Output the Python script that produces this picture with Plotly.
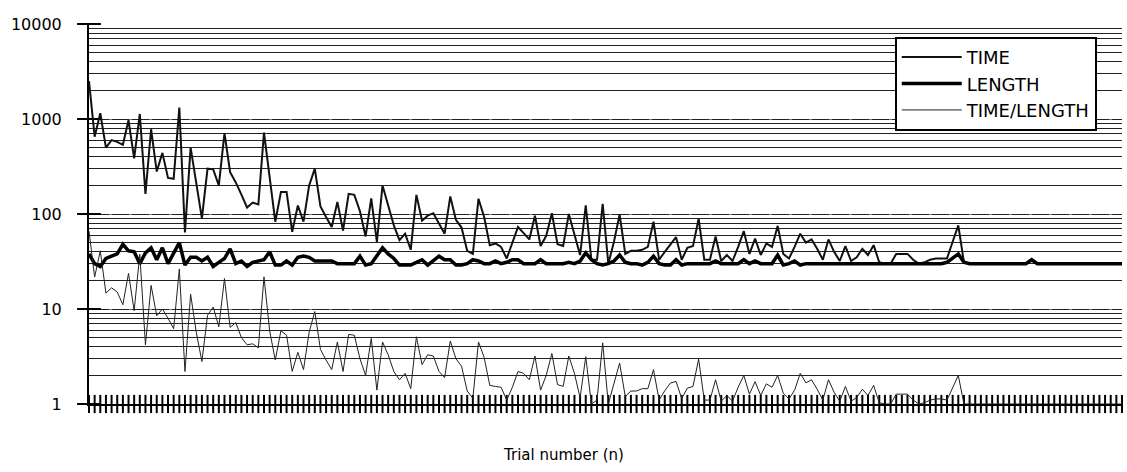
import plotly.graph_objects as go

# ---- data (trial index 1..184) ----
trial = list(range(1, 185))

time_vals = [
    2500, 650, 1150, 500, 600, 575, 535, 970, 385, 1130,
    163, 780, 280, 440, 240, 235, 1320, 64, 500, 200,
    90, 300, 295, 200, 710, 275, 215, 160, 117, 132,
    126, 720, 235, 83, 170, 170, 65, 123, 83, 200,
    300, 120, 93, 73, 134, 67, 163, 159, 107, 58,
    146, 51, 200, 124, 76, 53, 62, 42, 159, 85,
    96, 102, 78, 62, 153, 87, 72, 41, 38, 145,
    93, 47, 49, 45, 34, 50, 73, 63, 54, 96,
    46, 59, 102, 48, 46, 100, 62, 37, 123, 33,
    33, 128, 30, 51, 99, 38, 41, 41, 42, 45,
    83, 33, 40, 48, 57, 33, 44, 46, 89, 33,
    33, 58, 32, 37, 32, 45, 66, 38, 55, 37,
    49, 45, 75, 38, 34, 45, 62, 50, 54, 43,
    33, 54, 40, 32, 46, 32, 35, 43, 37, 47,
    31, 30, 30, 38, 38, 38, 33, 30, 31, 33,
    34, 34, 34, 51, 76, 31, 30, 30, 30, 30,
    30, 30, 30, 30, 30, 30, 30, 33, 30, 30,
    30, 30, 30, 30, 30, 30, 30, 30, 30, 30,
    30, 30, 30, 30,
]

length_vals = [
    38, 30, 28, 34, 36, 38, 48, 41, 40, 30,
    39, 44, 33, 44, 30, 38, 50, 29, 35, 35,
    32, 35, 28, 31, 34, 43, 30, 32, 28, 31,
    32, 33, 40, 29, 29, 32, 29, 35, 36, 35,
    32, 32, 32, 32, 30, 30, 30, 30, 36, 29,
    30, 37, 44, 38, 34, 29, 29, 29, 31, 33,
    29, 32, 36, 33, 33, 29, 29, 30, 33, 32,
    30, 30, 32, 30, 31, 33, 33, 30, 30, 30,
    33, 30, 30, 30, 30, 31, 30, 32, 39, 33,
    30, 29, 30, 32, 37, 31, 30, 30, 29, 31,
    36, 30, 29, 29, 33, 29, 30, 30, 30, 30,
    30, 32, 30, 30, 30, 30, 33, 30, 32, 30,
    30, 30, 37, 29, 30, 32, 29, 30, 30, 30,
    30, 30, 30, 30, 30, 30, 30, 30, 30, 30,
    30, 30, 30, 30, 30, 30, 30, 30, 30, 30,
    30, 30, 31, 34, 38, 31, 30, 30, 30, 30,
    30, 30, 30, 30, 30, 30, 30, 33, 30, 30,
    30, 30, 30, 30, 30, 30, 30, 30, 30, 30,
    30, 30, 30, 30,
]

ratio_vals = [
    66, 21.7, 41, 14.7, 16.7, 15.1, 11.1, 23.7, 9.6, 37.7,
    4.2, 17.7, 8.5, 10, 8, 6.2, 26.4, 2.2, 14.3, 5.7,
    2.8, 8.6, 10.5, 6.5, 20.9, 6.4, 7.2, 5.0, 4.2, 4.3,
    3.9, 21.8, 5.9, 2.9, 5.9, 5.3, 2.2, 3.5, 2.3, 5.7,
    9.4, 3.75, 2.9, 2.3, 4.5, 2.2, 5.4, 5.3, 3.0, 2.0,
    4.9, 1.4, 4.5, 3.3, 2.2, 1.8, 2.1, 1.45, 5.1, 2.6,
    3.3, 3.2, 2.2, 1.9, 4.6, 3.0, 2.5, 1.37, 1.15, 4.5,
    3.1, 1.57, 1.53, 1.5, 1.1, 1.5, 2.2, 2.1, 1.8, 3.2,
    1.4, 2.0, 3.4, 1.6, 1.53, 3.2, 2.1, 1.16, 3.15, 1.0,
    1.1, 4.4, 1.0, 1.6, 2.7, 1.2, 1.37, 1.37, 1.45, 1.45,
    2.3, 1.1, 1.38, 1.66, 1.73, 1.14, 1.47, 1.53, 2.97, 1.1,
    1.1, 1.8, 1.07, 1.23, 1.07, 1.5, 2.0, 1.27, 1.72, 1.23,
    1.63, 1.5, 2.0, 1.3, 1.13, 1.4, 2.1, 1.67, 1.8, 1.43,
    1.1, 1.8, 1.33, 1.07, 1.53, 1.07, 1.17, 1.43, 1.23, 1.57,
    1.03, 1.0, 1.0, 1.27, 1.27, 1.27, 1.1, 1.0, 1.03, 1.1,
    1.13, 1.13, 1.1, 1.5, 2.0, 1.0, 1.0, 1.0, 1.0, 1.0,
    1.0, 1.0, 1.0, 1.0, 1.0, 1.0, 1.0, 1.0, 1.0, 1.0,
    1.0, 1.0, 1.0, 1.0, 1.0, 1.0, 1.0, 1.0, 1.0, 1.0,
    1.0, 1.0, 1.0, 1.0,
]

series_names = ["TIME", "LENGTH", "TIME/LENGTH"]
y_tickvals = [1, 10, 100, 1000, 10000]
y_ticktext = ["1", "10", "100", "1000", "10000"]
x_title = "Trial number (n)"

FONT = "DejaVu Sans"

fig = go.Figure()

# crossing tick marks on the category (x) axis and on the value axis
fig.add_trace(go.Scatter(
    x=trial, y=[y_tickvals[0]] * len(trial), mode="markers", cliponaxis=False,
    marker=dict(symbol="line-ns", size=13, line=dict(color="black", width=2)),
    showlegend=False, hoverinfo="skip"))
fig.add_trace(go.Scatter(
    x=[trial[0]] * len(y_tickvals), y=y_tickvals, mode="markers", cliponaxis=False,
    marker=dict(symbol="line-ew", size=17, line=dict(color="black", width=2)),
    showlegend=False, hoverinfo="skip"))

fig.add_trace(go.Scatter(x=trial, y=time_vals, mode="lines", name=series_names[0],
                         line=dict(color="#111111", width=2)))
fig.add_trace(go.Scatter(x=trial, y=length_vals, mode="lines", name=series_names[1],
                         line=dict(color="#000000", width=3.5)))
fig.add_trace(go.Scatter(x=trial, y=ratio_vals, mode="lines", name=series_names[2],
                         line=dict(color="#222222", width=1)))

xr = [trial[0], trial[-1]]
yr = [0, 4]

fig.update_layout(
    width=1127, height=472,
    margin=dict(l=89, r=5, t=24, b=68),
    paper_bgcolor="white", plot_bgcolor="white",
    font=dict(family=FONT, color="black"),
    showlegend=True,
    legend=dict(
        x=0.78, y=0.966, xanchor="left", yanchor="top",
        bgcolor="white", bordercolor="black", borderwidth=2,
        font=dict(family=FONT, size=18, color="black"),
        itemwidth=60,
    ),
    xaxis=dict(
        range=xr, showgrid=False, zeroline=False,
        showline=True, linecolor="black", linewidth=2,
        ticks="", showticklabels=False,
    ),
    yaxis=dict(
        type="log", range=yr,
        tickvals=y_tickvals, ticktext=y_ticktext,
        tickfont=dict(family=FONT, size=16, color="black"),
        showline=True, linecolor="black", linewidth=2,
        ticks="outside", ticklen=8, tickwidth=2, tickcolor="black",
        ticklabelstandoff=14,
        showgrid=True, gridcolor="#777777", gridwidth=1, griddash="3px,17px",
        zeroline=False,
        minor=dict(dtick="D1", showgrid=True, gridcolor="#222222", gridwidth=1,
                   griddash="solid", ticks=""),
    ),
    annotations=[dict(
        text=x_title, xref="paper", yref="paper", x=0.459, y=-0.135,
        xanchor="center", yanchor="middle", showarrow=False,
        font=dict(family=FONT, size=15, color="black"),
    )],
)

fig.write_html("out.html")
